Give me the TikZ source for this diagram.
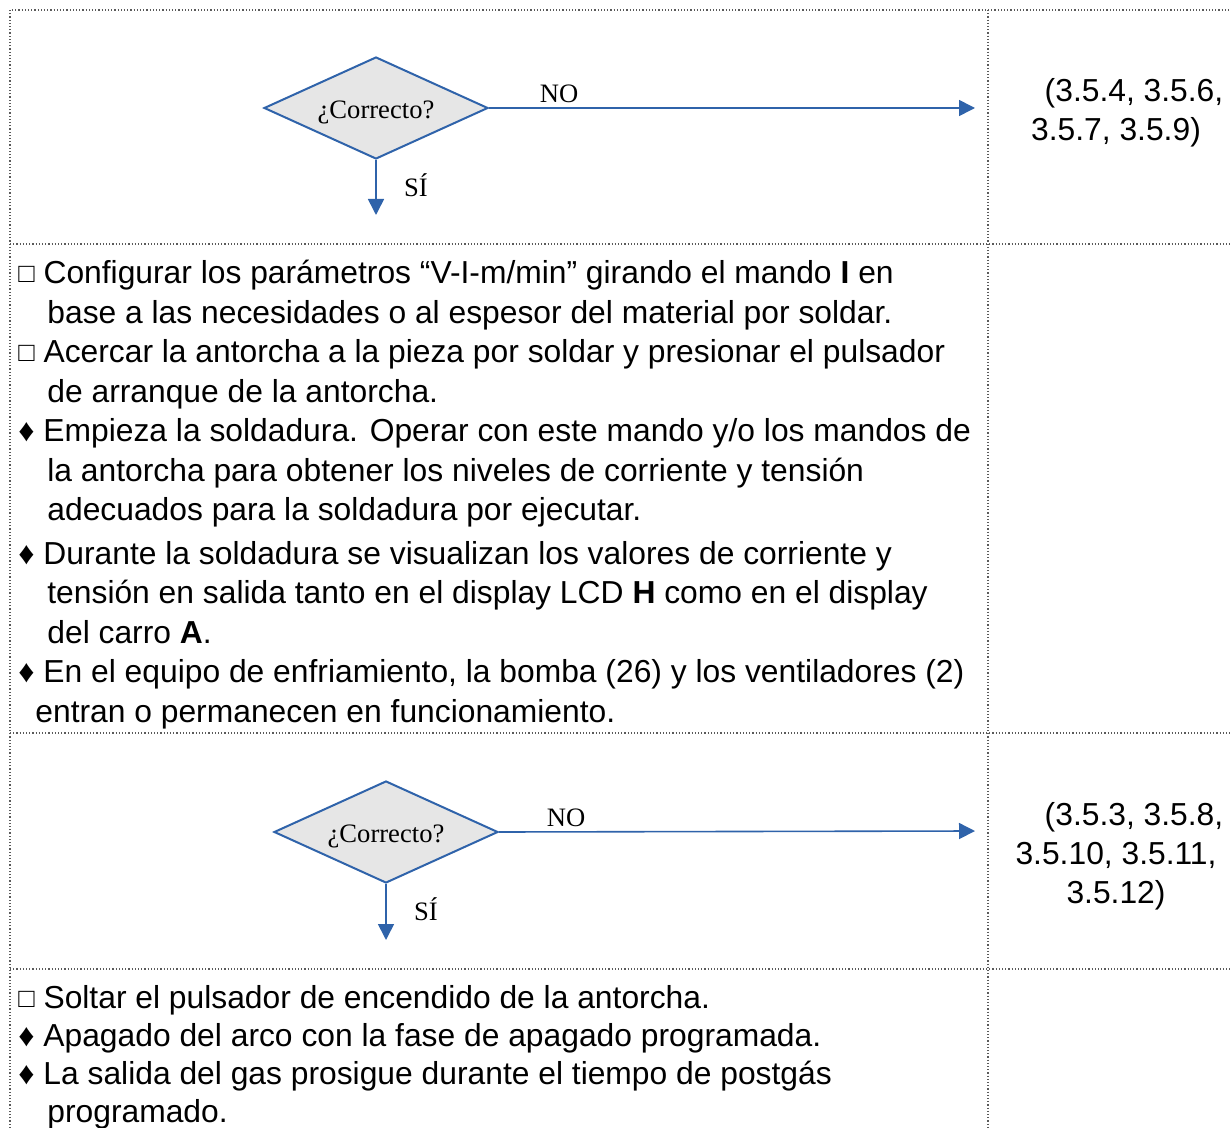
\documentclass[tikz,border=0pt]{standalone}
\usepackage{fontspec}
\setmainfont{Liberation Sans}
\newfontfamily\timesfont{Liberation Serif}
\usetikzlibrary{shapes.geometric,arrows.meta,positioning}
\definecolor{flowblue}{RGB}{47,99,170}
\definecolor{flowgray}{RGB}{230,230,230}
\definecolor{gridgray}{RGB}{90,90,90}
\newcommand{\bodyfont}{\fontsize{15.9pt}{19.75pt}\selectfont}
\newcommand{\ind}{\hspace*{14.5pt}}
\newcommand{\sqbox}{\raisebox{0.6pt}{\fontsize{13.5pt}{13.5pt}\selectfont □}}
\newcommand{\decisiontext}{\raisebox{-5.4pt}[0pt][0pt]{¿Correcto?}}
\begin{document}
\begin{tikzpicture}[x=0.5pt, y=-0.5pt,
    decision/.style={diamond, aspect=2.2, draw=flowblue, line width=1pt, fill=flowgray, minimum width=112pt, minimum height=51pt, inner sep=0pt, font=\timesfont\fontsize{13.3pt}{16pt}\selectfont},
    lbl/.style={inner sep=0pt, font=\timesfont\fontsize{13.3pt}{16pt}\selectfont},
    arrow/.style={draw=flowblue, line width=0.8pt, -{Triangle[length=8pt, width=8pt]}},
    body/.style={inner sep=0pt, align=left, font=\bodyfont},
    ref/.style={inner sep=0pt, align=center, font=\fontsize{15.9pt}{19.5pt}\selectfont},
    grid/.style={draw=gridgray, line width=0.6pt, densely dotted},
]
\useasboundingbox (0,0) rectangle (1231,1128);

% Tabla
\draw[grid] (10,1128) -- (10,10) -- (1231,10);
\draw[grid] (988,10) -- (988,1128);
\foreach \y in {244,733,969}
  \draw[grid] (10,\y) -- (1231,\y);

% Primera decisión
\node[decision] (dec1) at (376,108) {\decisiontext};
\coordinate (no1) at (975,108);
\coordinate (si1) at (376,215);
\draw[arrow] (dec1.east) -- (no1);
\draw[arrow] (dec1.south) -- (si1);
\node[lbl] (nolbl1) at (559,94) {NO};
\node[lbl] (silbl1) at (416,185) {SÍ};
\node[ref] (ref1) at (1116,113) {\hspace*{18pt}(3.5.4, 3.5.6,\\3.5.7, 3.5.9)};

% Pasos de soldadura
\node[body, anchor=north west] (steps1) at (18,260) {%
\sqbox\ Configurar los parámetros “V-I-m/min” girando el mando \textbf{I} en\\
\ind base a las necesidades o al espesor del material por soldar.\\
\sqbox\ Acercar la antorcha a la pieza por soldar y presionar el pulsador\\
\ind de arranque de la antorcha.\\
♦ Empieza la soldadura. Operar con este mando y/o los mandos de\\
\ind la antorcha para obtener los niveles de corriente y tensión\\
\ind adecuados para la soldadura por ejecutar.\\[2pt]
♦ Durante la soldadura se visualizan los valores de corriente y\\
\ind tensión en salida tanto en el display LCD \textbf{H} como en el display\\
\ind del carro \textbf{A}.\\
♦ En el equipo de enfriamiento, la bomba (26) y los ventiladores (2)\\
\hspace*{8.5pt}entran o permanecen en funcionamiento.};

% Segunda decisión
\node[decision] (dec2) at (386,832) {\decisiontext};
\coordinate (no2) at (975,831);
\coordinate (si2) at (386,940);
\draw[arrow] (dec2.east) -- (no2);
\draw[arrow] (dec2.south) -- (si2);
\node[lbl] (nolbl2) at (566,818) {NO};
\node[lbl] (silbl2) at (426,909) {SÍ};
\node[ref] (ref2) at (1116,856) {\hspace*{18pt}(3.5.3, 3.5.8,\\3.5.10, 3.5.11,\\3.5.12)};

% Fin de soldadura
\node[body, anchor=north west, font=\fontsize{15.9pt}{19pt}\selectfont] (steps2) at (18,985) {%
\sqbox\ Soltar el pulsador de encendido de la antorcha.\\
♦ Apagado del arco con la fase de apagado programada.\\
♦ La salida del gas prosigue durante el tiempo de postgás\\
\ind programado.};
\end{tikzpicture}
\end{document}
